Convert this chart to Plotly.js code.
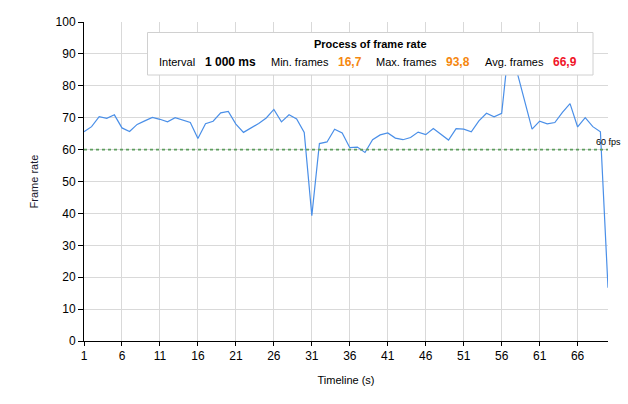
<!DOCTYPE html>
<html>
<head>
<meta charset="utf-8">
<script src="https://cdn.plot.ly/plotly-3.0.1.min.js"></script>
<style>html,body{margin:0;padding:0;background:#fff;}#chart{width:628px;height:404px;}</style>
</head>
<body>
<div id="chart"></div>
<script>
// Data
const seconds = Array.from({length: 70}, (_, i) => i + 1);
const frameRate = [65.6,67.2,70.3,69.8,70.9,66.8,65.7,67.9,69.0,70.1,
  69.5,68.7,70.0,69.3,68.5,63.5,68.1,68.9,71.5,72.0,
  68.0,65.4,66.7,68.2,69.9,72.6,68.7,70.9,69.6,65.4,
  39.3,61.9,62.4,66.4,65.2,60.6,60.8,59.1,63.1,64.6,
  65.2,63.6,63.1,63.8,65.5,64.7,66.6,64.8,63.0,66.6,
  66.4,65.6,69.0,71.4,70.3,71.4,93.8,84.5,75.3,66.4,
  68.9,68.1,68.5,71.7,74.4,67.1,70.0,67.2,65.6,16.7];
const xTicks = [1,6,11,16,21,26,31,36,41,46,51,56,61,66];
const thresholdFps = 60;
const thresholdLabel = "60 fps";
const chartTitle = "Process of frame rate";
const statLabels = ["Interval", "Min. frames", "Max. frames", "Avg. frames"];
const statValues = ["1 000 ms", "16,7", "93,8", "66,9"];

// layout helpers (pixel -> paper)
const L = 84, R = 608, T = 22, B = 341;
const px = x => (x - L) / (R - L);
const py = y => (B - y) / (B - T);

const font = "Liberation Sans, Arial, sans-serif";
const rowY = py(62);
const statLabelX = [159, 271, 376, 485];
const statValueX = [205, 338, 446, 553];
const statValueColors = ["#000000", "#f5870f", "#f5870f", "#f01428"];

const annotations = [
  {xref:'paper', yref:'paper', x:px(370), y:py(44), text:'<b>' + chartTitle + '</b>', showarrow:false,
   xanchor:'center', yanchor:'middle', font:{family:font, size:11, color:'#000'}},
  {xref:'x', yref:'y', x:70, y:thresholdFps, yshift:1, text:thresholdLabel, showarrow:false,
   xanchor:'center', yanchor:'bottom', font:{family:font, size:9, color:'#000'}}
];
statLabels.forEach((t, i) => {
  annotations.push({xref:'paper', yref:'paper', x:px(statLabelX[i]-2), y:rowY, text:t, showarrow:false,
    xanchor:'left', yanchor:'middle', font:{family:font, size:11, color:'#000'}});
  annotations.push({xref:'paper', yref:'paper', x:px(statValueX[i]-2), y:rowY, text:'<b>' + statValues[i] + '</b>', showarrow:false,
    xanchor:'left', yanchor:'middle', font:{family:font, size:12, color:statValueColors[i]}});
});

const traces = [
  {x: seconds, y: frameRate, type:'scatter', mode:'lines',
   line:{color:'#4a8fe8', width:1.2}, hoverinfo:'x+y'},
  {x: [1, 70], y: [thresholdFps, thresholdFps], type:'scatter', mode:'lines',
   line:{color:'#5e9e5e', width:1.6, dash:'dot'}, hoverinfo:'skip'}
];

const layout = {
  width: 628, height: 404,
  margin: {l: L, r: 628 - R, t: T, b: 404 - B, pad: 0},
  paper_bgcolor: '#fff', plot_bgcolor: '#fff',
  showlegend: false,
  font: {family: font, size: 12, color: '#000'},
  xaxis: {
    range: [1, 70], tickvals: xTicks, ticktext: xTicks.map(String),
    showgrid: true, gridcolor: '#d9d9d9', gridwidth: 1,
    zeroline: false, showline: true, linecolor: '#000', linewidth: 1,
    ticks: 'outside', ticklen: 4, tickcolor: '#000',
    tickfont: {family: font, size: 12, color: '#000'},
    title: {text: 'Timeline (s)', font: {family: font, size: 11, color: '#000'}, standoff: 13}
  },
  yaxis: {
    range: [0, 100], dtick: 10, tick0: 0,
    showgrid: true, gridcolor: '#d9d9d9', gridwidth: 1,
    zeroline: false, showline: true, linecolor: '#000', linewidth: 1,
    ticks: 'outside', ticklen: 5, tickcolor: '#000',
    tickfont: {family: font, size: 12, color: '#000'},
    title: {text: 'Frame rate', font: {family: font, size: 11, color: '#1a1a2e'}, standoff: 14}
  },
  shapes: [
    {type:'rect', xref:'paper', yref:'paper', x0:px(147.5), x1:px(593), y0:py(75), y1:py(32.5),
     fillcolor:'#ffffff', line:{color:'#d0d0d0', width:1}, layer:'above'}
  ],
  annotations: annotations
};

Plotly.newPlot('chart', traces, layout, {displayModeBar: false, staticPlot: true});
</script>
</body>
</html>
